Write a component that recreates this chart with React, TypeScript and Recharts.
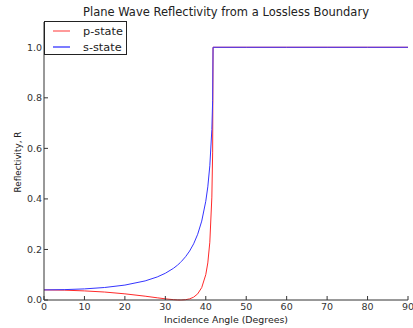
import React from 'react';
import { LineChart, Line, XAxis, YAxis } from 'recharts';

// incidence angles (degrees)
const angles = [0, 5, 10, 15, 20, 25, 28, 30, 32, 33, 33.7, 34, 35, 36, 37, 38, 39, 40, 40.5, 41, 41.5, 41.7, 41.8, 42, 50, 60, 70, 80, 90];
const pState = [0.04, 0.039, 0.036, 0.0315, 0.0244, 0.0151, 0.0087, 0.0046, 0.0013, 0.0002, 0, 0.0001, 0.0012, 0.0045, 0.0113, 0.0243, 0.0492, 0.1002, 0.1467, 0.2287, 0.4071, 0.585, 1, 1, 1, 1, 1, 1, 1];
const sState = [0.04, 0.041, 0.0439, 0.0495, 0.059, 0.0755, 0.0912, 0.1058, 0.1253, 0.1378, 0.148, 0.153, 0.1712, 0.1937, 0.2223, 0.2602, 0.3122, 0.3907, 0.4477, 0.5311, 0.6744, 0.789, 1, 1, 1, 1, 1, 1, 1];

const xTicks = [0, 10, 20, 30, 40, 50, 60, 70, 80, 90];
const yTicks = [0, 0.2, 0.4, 0.6, 0.8, 1.0];

const series = [
  { key: 'p', name: 'p-state', color: '#ff2a2a', legend: '#ff9a9a' },
  { key: 's', name: 's-state', color: '#3535ff', legend: '#7c7cff' },
];

const data = angles.map((a, i) => ({ angle: a, p: pState[i], s: sState[i] }));

const font = '"DejaVu Sans", sans-serif';
const axisColor = '#333';
const tickStyle = { fontSize: 9.5, fill: '#333', fontFamily: font };
const noLabel = () => <g />;

export default function App() {
  return (
    <div style={{ position: 'absolute', left: 0, top: 0, width: 413, height: 328, background: '#fff', fontFamily: font }}>
      <div style={{ position: 'absolute', left: 44, width: 364, top: 5, textAlign: 'center', fontSize: 11.5, color: '#222' }}>
        Plane Wave Reflectivity from a Lossless Boundary
      </div>
      <LineChart width={413} height={328} data={data} margin={{ top: 22, right: 5, bottom: 0, left: 0 }}>
        <XAxis dataKey="angle" type="number" domain={[0, 90]} ticks={xTicks} height={28}
          stroke={axisColor} tickSize={-4} tickMargin={7} tick={tickStyle} interval={0} />
        <XAxis xAxisId="top" orientation="top" dataKey="angle" type="number" domain={[0, 90]} ticks={xTicks}
          height={0} stroke={axisColor} tickSize={-4} tick={noLabel} />
        <YAxis type="number" domain={[0, 1.1]} ticks={yTicks} width={44} stroke={axisColor}
          tickSize={-4} tickMargin={6} tick={tickStyle} tickFormatter={(v: number) => v.toFixed(1)} interval={0} />
        <YAxis yAxisId="right" orientation="right" type="number" domain={[0, 1.1]} ticks={yTicks}
          width={0} stroke={axisColor} tickSize={-4} tick={noLabel} />
        {series.map((s) => (
          <Line key={s.key} dataKey={s.key} name={s.name} type="linear" stroke={s.color}
            strokeWidth={1} dot={false} isAnimationActive={false} />
        ))}
      </LineChart>
      <div style={{ position: 'absolute', left: 44, top: 21, width: 81, height: 32, border: '1px solid #222', background: '#fff', fontSize: 11.3, color: '#222' }}>
        {series.map((s, i) => (
          <div key={s.key} style={{ position: 'absolute', left: 0, top: 3 + i * 16, height: 12, display: 'flex', alignItems: 'center' }}>
            <span style={{ display: 'inline-block', marginLeft: 8, width: 17, height: 0, borderTop: `2px solid ${s.legend}` }} />
            <span style={{ marginLeft: 13 }}>{s.name}</span>
          </div>
        ))}
      </div>
      <div style={{ position: 'absolute', left: 44, width: 364, top: 314, textAlign: 'center', fontSize: 9.4, color: '#222' }}>
        Incidence Angle (Degrees)
      </div>
      <div style={{ position: 'absolute', left: 18, top: 162, width: 0, height: 0 }}>
        <div style={{ position: 'absolute', transform: 'translate(-50%, -50%) rotate(-90deg)', whiteSpace: 'nowrap', fontSize: 8.8, color: '#222' }}>
          Reflectivity, R
        </div>
      </div>
    </div>
  );
}
